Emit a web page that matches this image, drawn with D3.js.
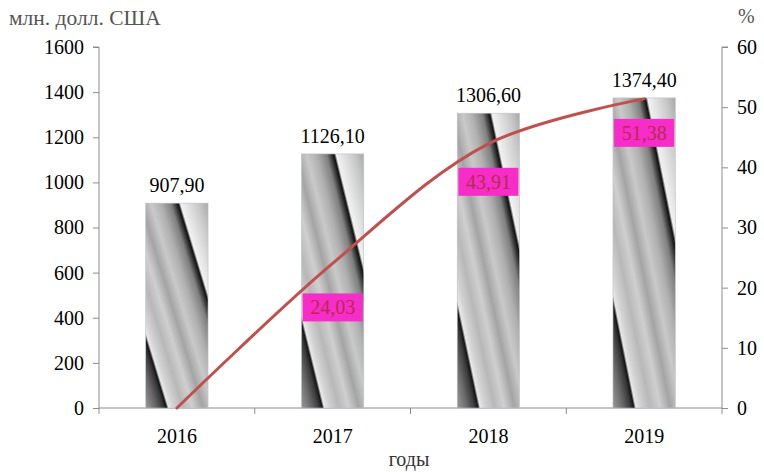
<!DOCTYPE html>
<html>
<head>
<meta charset="utf-8">
<script src="https://cdn.jsdelivr.net/npm/d3@7"></script>
<style>
  html, body { margin: 0; padding: 0; background: #fff; }
  svg { display: block; font-family: "Liberation Serif", "Times New Roman", serif; }
</style>
</head>
<body>
<svg id="chart" width="764" height="472"></svg>
<script>
// Export volume by year (left axis) and growth rate, % (right axis)
const years = ["2016", "2017", "2018", "2019"];
const volume = [907.90, 1126.10, 1306.60, 1374.40];
const growth = [0, 24.03, 43.91, 51.38];
const leftTicks = [0, 200, 400, 600, 800, 1000, 1200, 1400, 1600];
const rightTicks = [0, 10, 20, 30, 40, 50, 60];

const fmt = v => v.toFixed(2).replace(".", ",");

const svg = d3.select("#chart");
const plotLeft = 99, plotRight = 722, plotTop = 47, plotBottom = 408;

const x = d3.scaleBand().domain(years).range([plotLeft, plotRight])
  .paddingInner(0.6).paddingOuter(0.3);
const yL = d3.scaleLinear().domain([0, 1600]).range([plotBottom, plotTop]);
const yR = d3.scaleLinear().domain([0, 60]).range([plotBottom, plotTop]);

// Metallic striped fill, stretched over each bar's bounding box
const defs = svg.append("defs");
const grad = defs.append("linearGradient").attr("id", "metal")
  .attr("x1", 0).attr("y1", 1).attr("x2", 1).attr("y2", 0);
[
  [0.00, "#9a9a9a"], [0.08, "#6a6a6a"], [0.14, "#3a3a3a"], [0.168, "#151515"],
  [0.185, "#e8e8e8"], [0.22, "#d4d4d4"], [0.30, "#b8b8b8"], [0.38, "#cfcfcf"],
  [0.46, "#a4a4a4"], [0.54, "#c9c9c9"], [0.62, "#b0b0b0"], [0.70, "#808080"],
  [0.745, "#2a2a2a"], [0.76, "#111"], [0.778, "#f2f2f2"], [0.84, "#e0e0e0"],
  [0.92, "#c8c8c8"], [1.00, "#a8a8a8"]
].forEach(([o, c]) => grad.append("stop").attr("offset", o).attr("stop-color", c));

// Axes
const axisColor = "#8c8c8c";
const gL = svg.append("g").attr("transform", `translate(${plotLeft},0)`)
  .call(d3.axisLeft(yL).tickValues(leftTicks).tickSize(6).tickPadding(9).tickFormat(d3.format("d")));
const gR = svg.append("g").attr("transform", `translate(${plotRight},0)`)
  .call(d3.axisRight(yR).tickValues(rightTicks).tickSize(6).tickPadding(9).tickFormat(d3.format("d")));
const boundaries = d3.range(years.length + 1).map(i => plotLeft + i * x.step());
const gX = svg.append("g").attr("transform", `translate(0,${plotBottom})`);
gX.append("line").attr("x1", plotLeft).attr("x2", plotRight).attr("stroke", axisColor);
gX.selectAll("line.tk").data(boundaries).join("line").attr("class", "tk")
  .attr("x1", d => d).attr("x2", d => d).attr("y1", 0).attr("y2", 6).attr("stroke", axisColor);
gX.selectAll("text").data(years).join("text")
  .attr("x", d => x(d) + x.bandwidth() / 2).attr("y", 35)
  .attr("text-anchor", "middle").attr("font-size", 20).attr("fill", "#000").text(d => d);

[gL, gR].forEach(g => {
  g.select(".domain").attr("stroke", axisColor).attr("d",
    g === gL ? `M-6,${plotTop}H0V${plotBottom}` : `M6,${plotTop}H0V${plotBottom}`);
  g.selectAll(".tick line").attr("stroke", axisColor);
  g.selectAll(".tick text").attr("font-size", 20).attr("fill", "#000")
    .attr("font-family", "Liberation Serif, serif");
});

// Bars
svg.append("g").selectAll("rect").data(years).join("rect")
  .attr("x", d => x(d)).attr("width", x.bandwidth())
  .attr("y", (d, i) => yL(volume[i])).attr("height", (d, i) => plotBottom - yL(volume[i]))
  .attr("fill", "url(#metal)").attr("stroke", "#b9c0cc").attr("stroke-width", 0.6);

svg.append("g").selectAll("text").data(years).join("text")
  .attr("x", d => x(d) + x.bandwidth() / 2).attr("y", (d, i) => yL(volume[i]) - 11)
  .attr("text-anchor", "middle").attr("font-size", 20).attr("fill", "#000")
  .text((d, i) => fmt(volume[i]));

// Growth line
const pts = years.map((d, i) => [x(d) + x.bandwidth() / 2, yR(growth[i])]);
svg.append("path").datum(pts)
  .attr("d", d3.line().curve(d3.curveCatmullRom.alpha(0.5)))
  .attr("fill", "none").attr("stroke", "#c0504d").attr("stroke-width", 3)
  .attr("stroke-linecap", "round");

// Growth labels (first point has none)
const labelDy = [0, 44, 38, 34];
const lg = svg.append("g");
years.forEach((d, i) => {
  if (i === 0) return;
  const cx = pts[i][0], cy = pts[i][1] + labelDy[i];
  lg.append("rect").attr("x", cx - 30).attr("y", cy - 14)
    .attr("width", 60).attr("height", 28).attr("fill", "#f72cc9");
  lg.append("text").attr("x", cx).attr("y", cy + 7)
    .attr("text-anchor", "middle").attr("font-size", 20).attr("fill", "#b32c4e")
    .text(fmt(growth[i]));
});

// Axis titles
svg.append("text").attr("x", 9).attr("y", 25).attr("font-size", 21.5).attr("fill", "#555")
  .text("млн. долл. США");
svg.append("text").attr("x", 738).attr("y", 23).attr("font-size", 20).attr("fill", "#555")
  .text("%");
svg.append("text").attr("x", 409).attr("y", 466).attr("text-anchor", "middle")
  .attr("font-size", 20).attr("fill", "#333").text("годы");
</script>
</body>
</html>
